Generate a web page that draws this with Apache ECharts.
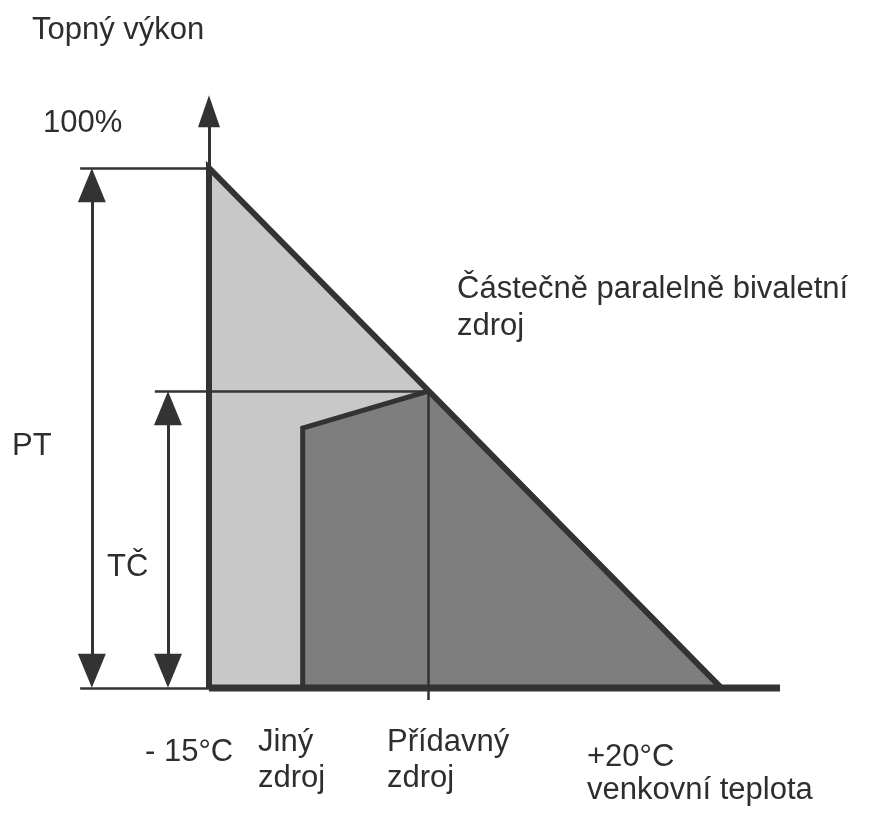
<!DOCTYPE html>
<html>
<head>
<meta charset="utf-8">
<script src="https://cdn.jsdelivr.net/npm/echarts@6/dist/echarts.min.js"></script>
<style>
  html, body { margin: 0; padding: 0; background: #fff; }
  #chart { width: 878px; height: 815px; }
</style>
</head>
<body>
<div id="chart"></div>
<script>
// osa x = venkovní teplota (°C), osa y = topný výkon (%)
var fullPower = [[-15, 100], [20, 0]];                   // křivka potřebného výkonu
var heatPump = [[-8.6, 0], [-8.6, 50], [0, 57.1], [20, 0]]; // pokrytí tepelným čerpadlem
var outline = [[-15, 0], [-15, 100], [20, 0]];
var baseline = [[-15, 0], [24, 0]];
var bivalentPoint = [0, 57.1];

var titleText = 'Topný výkon';
var maxText = '100%';
var modeText = 'Částečně paralelně\u00a0bivaletní\nzdroj';
var ptText = 'PT';
var tcText = 'TČ';
var tickTexts = ['- 15°C', 'Jiný\nzdroj', 'Přídavný\nzdroj', '+20°C\nvenkovní teplota'];

var dark = '#333333';
var font = '31px "Liberation Sans", Arial, sans-serif';
var txtColor = '#2e2e2e';

function seg(a, b) {
    return [{ coord: a }, { coord: b }];
}

var myChart = echarts.init(document.getElementById('chart'));
var option = {
    animation: false,
    backgroundColor: '#ffffff',
    grid: { left: 4, right: 98, top: 64, bottom: 23 },
    xAxis: { type: 'value', min: -29, max: 24, show: false },
    yAxis: { type: 'value', min: -20, max: 120, show: false },
    series: [
        {
            type: 'line', data: fullPower, symbol: 'none', clip: false, z: 1,
            lineStyle: { width: 0 },
            areaStyle: { color: '#c8c8c8', opacity: 1 }
        },
        {
            type: 'line', data: heatPump, symbol: 'none', clip: false, z: 2,
            lineStyle: { color: dark, width: 5, join: 'miter' },
            areaStyle: { color: '#7e7e7e', opacity: 1 }
        },
        {
            // tenké pomocné čáry a kóty
            type: 'line', data: [], symbol: 'none', z: 3,
            markLine: {
                silent: true, symbol: 'none', label: { show: false },
                lineStyle: { color: dark, width: 2.5, type: 'solid' },
                data: [
                    seg([-23.8, 100], [-15, 100]),
                    seg([-23.8, 0], [-15, 0]),
                    seg([-18.7, bivalentPoint[1]], bivalentPoint),
                    seg(bivalentPoint, [0, -2.3])
                ]
            }
        },
        {
            type: 'line', data: outline, symbol: 'none', clip: false, z: 4,
            lineStyle: { color: dark, width: 6, join: 'miter' }
        },
        {
            type: 'line', data: baseline, symbol: 'none', clip: false, z: 5,
            lineStyle: { color: dark, width: 7 }
        },
        {
            // šipky: osa výkonu, PT, TČ
            type: 'line', data: [], symbol: 'none', z: 6,
            markLine: {
                silent: true, label: { show: false },
                symbol: ['triangle', 'triangle'],
                lineStyle: { color: dark, width: 3, type: 'solid' },
                itemStyle: { color: dark },
                data: [
                    [{ coord: [-15, 100], symbol: 'none' }, { coord: [-15, 110.9], symbol: 'triangle', symbolSize: [22, 32] }],
                    [{ coord: [-23, 3.3], symbolSize: [28, 34] }, { coord: [-23, 96.7], symbolSize: [28, 34] }],
                    [{ coord: [-17.8, 3.3], symbolSize: [28, 34] }, { coord: [-17.8, 53.8], symbolSize: [28, 34] }]
                ]
            }
        }
    ],
    graphic: [
        { type: 'text', x: 32, y: 30.5, style: { text: titleText, font: font, fill: txtColor, lineHeight: 36, verticalAlign: 'middle' } },
        { type: 'text', x: 43, y: 123, style: { text: maxText, font: font, fill: txtColor, lineHeight: 36, verticalAlign: 'middle' } },
        { type: 'text', x: 457, y: 271, style: { text: modeText, font: font, fill: txtColor, lineHeight: 37, verticalAlign: 'top' } },
        { type: 'text', x: 12, y: 446.5, style: { text: ptText, font: font, fill: txtColor, lineHeight: 36, verticalAlign: 'middle' } },
        { type: 'text', x: 107, y: 567, style: { text: tcText, font: font, fill: txtColor, lineHeight: 36, verticalAlign: 'middle' } },
        { type: 'text', x: 145, y: 752, style: { text: tickTexts[0], font: font, fill: txtColor, lineHeight: 36, verticalAlign: 'middle' } },
        { type: 'text', x: 258, y: 724.4, style: { text: tickTexts[1], font: font, fill: txtColor, lineHeight: 36, verticalAlign: 'top' } },
        { type: 'text', x: 387, y: 724.4, style: { text: tickTexts[2], font: font, fill: txtColor, lineHeight: 36, verticalAlign: 'top' } },
        { type: 'text', x: 587, y: 741, style: { text: tickTexts[3], font: font, fill: txtColor, lineHeight: 33, verticalAlign: 'top' } }
    ]
};
myChart.setOption(option);
</script>
</body>
</html>
